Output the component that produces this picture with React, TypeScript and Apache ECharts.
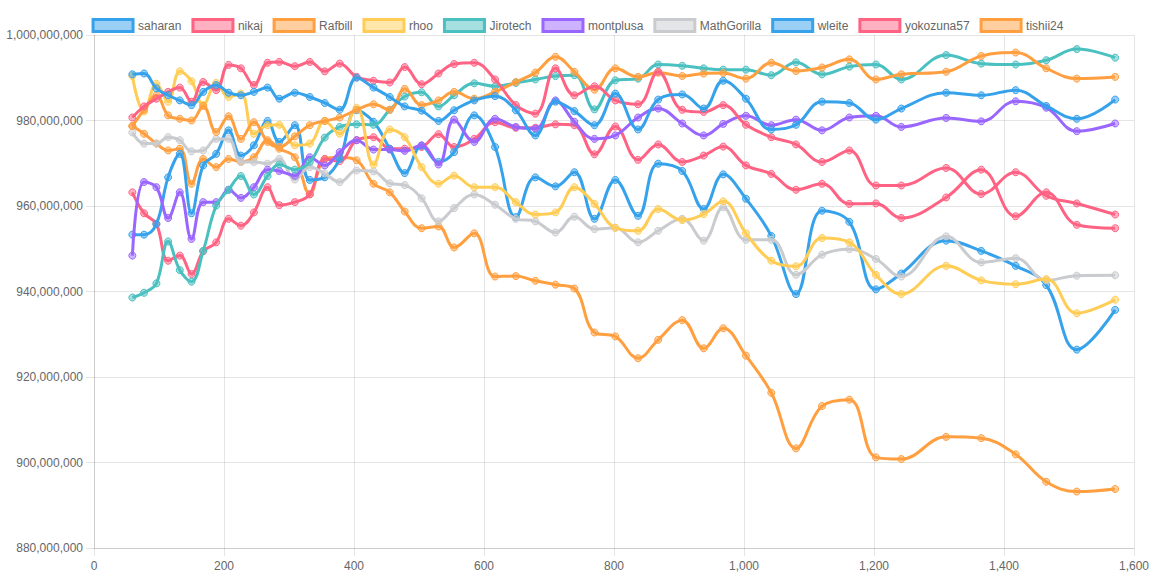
import React, { useEffect, useRef } from "react";
import * as echarts from "echarts";

// x positions shared by all series
const xValues = [59, 77, 96, 114, 132, 150, 168, 188, 207, 226, 246, 267, 285, 309, 332, 355, 378, 404, 430, 455, 478, 504, 530, 554, 585, 617, 649, 679, 710, 739, 770, 802, 837, 868, 905, 938, 968, 1003, 1042, 1080, 1120, 1162, 1203, 1242, 1311, 1365, 1418, 1465, 1512, 1571];

// values in millions
const saharan = [990.8, 991.0, 987.5, 985.9, 984.7, 983.6, 986.7, 988.3, 986.5, 985.9, 986.7, 987.7, 985.1,
  986.5, 985.5, 984.1, 982.5, 990.0, 987.7, 985.5, 983.3, 982.3,
  979.9, 982.4, 984.7, 985.7, 982.4, 976.5, 984.4, 982.2, 978.9, 986.3, 977.9, 984.9, 986.1, 982.8, 989.3,
  985.1, 977.9, 979.0, 984.4, 984.1, 980.2, 982.8, 986.5, 985.9, 987.1, 983.4, 980.4, 984.9];
const nikaj = [980.7, 983.3, 985.1, 986.7, 987.7, 984.4, 989.0, 987.1, 993.0, 992.2, 988.3, 993.5, 993.7,
  992.7, 993.7, 991.5, 993.3, 990.2, 989.3, 988.9, 992.5, 988.5,
  991.0, 993.2, 993.5, 989.6, 983.6, 981.6, 992.2, 985.9, 988.0, 984.7, 983.8, 991.4, 982.5, 982.0, 983.6,
  979.0, 976.1, 974.4, 970.3, 973.0, 964.8, 964.8, 968.9, 962.8, 967.9, 962.4, 960.6, 958.0];
const rafbill = [978.7, 982.5, 985.9, 981.2, 980.4, 980.0, 983.4, 977.3, 981.0, 975.7, 979.6, 975.0, 973.8,
  976.3, 978.9, 979.9, 980.7, 982.5, 983.8, 982.5, 987.4, 983.6,
  984.7, 986.7, 985.1, 986.7, 989.0, 991.2, 994.9, 991.4, 987.2, 992.2, 990.2, 991.2, 990.4, 991.0, 991.1,
  989.8, 993.5, 991.6, 992.4, 994.3, 989.6, 990.8, 991.4, 995.1, 995.9, 992.2, 989.8, 990.2];
const rhoo = [990.4, 982.1, 988.6, 984.4, 991.5, 989.2, 983.6, 988.8, 985.5, 986.3, 976.9, 978.9, 979.0,
  974.2, 974.6, 979.9, 976.9, 983.0, 969.7, 977.9, 976.1, 969.1,
  965.2, 967.1, 964.4, 964.4, 960.9, 958.0, 958.5, 964.4, 960.5, 954.9, 954.2, 959.3, 956.7, 958.1, 961.1,
  953.6, 947.2, 945.9, 952.5, 951.5, 943.9, 939.4, 946.0, 942.6, 941.7, 942.9, 934.9, 938.1];
const jirotech = [938.6, 939.7, 941.9, 951.7, 945.0, 942.3, 949.5, 960.1, 963.8, 967.0, 962.7, 967.0, 969.7,
  968.5, 970.3, 976.0, 978.5, 979.1, 979.0, 982.5, 985.6, 986.6,
  983.3, 985.9, 988.7, 988.0, 988.8, 989.6, 990.4, 990.6, 982.6, 989.4, 989.8, 993.1, 992.8, 992.2, 991.9,
  991.9, 990.6, 993.6, 990.8, 992.6, 993.1, 989.6, 995.3, 993.3, 993.1, 994.1, 996.7, 994.7];
const montplusa = [948.4, 965.6, 964.4, 957.2, 963.2, 952.3, 960.9, 960.9, 963.8, 961.9, 964.4, 968.5, 968.2,
  967.1, 971.4, 969.5, 972.6, 975.4, 973.2, 973.2, 972.9, 974.2,
  969.7, 980.2, 975.0, 980.4, 978.5, 978.1, 984.7, 979.7, 975.7, 976.5, 980.7, 982.8, 979.3, 976.5, 979.2,
  981.1, 978.9, 980.2, 977.7, 980.7, 981.1, 978.5, 980.6, 979.8, 984.5, 983.0, 977.5, 979.3];
const mathGorilla = [977.2, 974.6, 974.6, 976.1, 975.4, 972.8, 973.0, 975.7, 975.7, 970.3, 970.3, 969.9, 971.0,
  966.2, 969.1, 967.6, 965.6, 968.3, 968.1, 965.3, 964.9, 961.8,
  956.4, 959.5, 962.7, 960.3, 957.0, 956.4, 953.8, 957.5, 954.6, 954.9, 951.5, 954.2, 957.0, 951.9, 959.7,
  952.1, 952.1, 943.9, 948.6, 949.9, 947.6, 943.5, 952.9, 946.8, 947.8, 942.6, 943.7, 943.8];
const wleite = [953.3, 953.3, 955.8, 966.7, 972.2, 958.3, 969.5, 972.2, 977.7, 971.8, 974.2, 979.9, 975.0,
  978.9, 966.1, 966.7, 971.0, 982.4, 979.7, 973.4, 967.7, 974.1,
  970.3, 972.6, 981.2, 973.8, 957.4, 966.7, 964.6, 967.9, 957.0, 966.1, 957.7, 969.9, 968.2, 959.3, 967.4,
  961.7, 953.0, 939.4, 958.9, 956.3, 940.5, 944.2, 951.9, 949.5, 946.0, 941.5, 926.4, 935.7];
const yokozuna57 = [963.2, 958.3, 955.8, 947.2, 948.4, 944.1, 949.4, 951.5, 957.0, 955.4, 958.5, 964.4, 960.2,
  960.9, 962.7, 971.0, 970.5, 975.4, 976.1, 973.4, 973.4, 973.8,
  976.8, 973.8, 975.7, 979.6, 978.3, 978.3, 979.1, 978.9, 972.1, 978.6, 970.8, 974.4, 970.3, 971.8, 973.9,
  969.5, 967.5, 963.8, 965.2, 960.5, 960.6, 957.2, 962.0, 968.5, 957.6, 963.2, 955.6, 954.8];
const tishii24 = [978.7, 976.9, 974.6, 973.0, 973.4, 965.2, 971.0, 969.1, 971.0, 970.3, 971.4, 975.4, 973.4,
  971.4, 962.8, 971.0, 971.4, 970.7, 965.2, 963.2, 958.7, 954.8,
  955.2, 950.3, 953.6, 943.5, 943.6, 942.5, 941.6, 940.7, 930.4, 929.5, 924.4, 928.7, 933.3, 926.7, 931.4,
  925.0, 916.3, 903.3, 913.2, 914.7, 901.2, 900.8, 906.0, 905.7, 901.9, 895.5, 893.2, 893.8];

const seriesNames = ["saharan", "nikaj", "Rafbill", "rhoo", "Jirotech", "montplusa", "MathGorilla", "wleite", "yokozuna57", "tishii24"];
const seriesValues = [saharan, nikaj, rafbill, rhoo, jirotech, montplusa, mathGorilla, wleite, yokozuna57, tishii24];

const palette = [
  [54, 162, 235], [255, 99, 132], [255, 159, 64], [255, 205, 86], [75, 192, 192],
  [153, 102, 255], [201, 203, 207],
];

const rgb = (c: number[]) => `rgb(${c[0]},${c[1]},${c[2]})`;
const rgba = (c: number[], a: number) => `rgba(${c[0]},${c[1]},${c[2]},${a})`;

const FONT = "'Liberation Sans', Arial, Helvetica, sans-serif";
const GRID_COLOR = "rgba(0,0,0,0.1)";

export default function App() {
  const ref = useRef<HTMLDivElement>(null);

  useEffect(() => {
    document.body.style.margin = "0";
    if (!ref.current) return;
    const chart = echarts.init(ref.current, undefined, { renderer: "svg" });

    const series = seriesNames.map((name, idx) => {
      const c = palette[idx % palette.length];
      return {
        name,
        type: "line",
        smooth: 0.4,
        data: xValues.map((x, i) => [x, seriesValues[idx][i]]),
        symbol: "circle",
        symbolSize: 7,
        showSymbol: true,
        lineStyle: { width: 3, color: rgb(c) },
        itemStyle: { color: rgba(c, 0.5), borderColor: rgb(c), borderWidth: 1 },
        emphasis: { disabled: true },
        z: 2 + (seriesNames.length - idx),
      };
    });

    chart.setOption({
      animation: false,
      backgroundColor: "#ffffff",
      textStyle: { fontFamily: FONT },
      legend: {
        top: 13,
        left: "center",
        icon: "rect",
        itemWidth: 40,
        itemHeight: 12,
        itemGap: 10,
        textStyle: { color: "#666", fontSize: 12, fontFamily: FONT },
        data: seriesNames.map((name, idx) => {
          const c = palette[idx % palette.length];
          return {
            name,
            itemStyle: { color: rgba(c, 0.5), borderColor: rgb(c), borderWidth: 3 },
          };
        }),
      },
      grid: { left: 94, right: 21, top: 35, bottom: 28, containLabel: false },
      xAxis: {
        type: "value",
        min: 0,
        max: 1600,
        interval: 200,
        axisLine: { show: true, onZero: false, lineStyle: { color: GRID_COLOR, width: 1 } },
        axisTick: { show: true, length: 8, lineStyle: { color: GRID_COLOR } },
        splitLine: { show: true, lineStyle: { color: GRID_COLOR } },
        axisLabel: {
          color: "#666",
          fontSize: 12,
          fontFamily: FONT,
          margin: 12,
          formatter: (v: number) => v.toLocaleString("en-US"),
        },
      },
      yAxis: {
        type: "value",
        min: 880,
        max: 1000,
        interval: 20,
        axisLine: { show: true, onZero: false, lineStyle: { color: GRID_COLOR, width: 1 } },
        axisTick: { show: true, length: 8, lineStyle: { color: GRID_COLOR } },
        splitLine: { show: true, lineStyle: { color: GRID_COLOR } },
        axisLabel: {
          color: "#666",
          fontSize: 12,
          fontFamily: FONT,
          margin: 11,
          formatter: (v: number) => Math.round(v * 1e6).toLocaleString("en-US"),
        },
      },
      series,
    });

    return () => chart.dispose();
  }, []);

  return <div ref={ref} style={{ width: 1155, height: 576 }} />;
}
